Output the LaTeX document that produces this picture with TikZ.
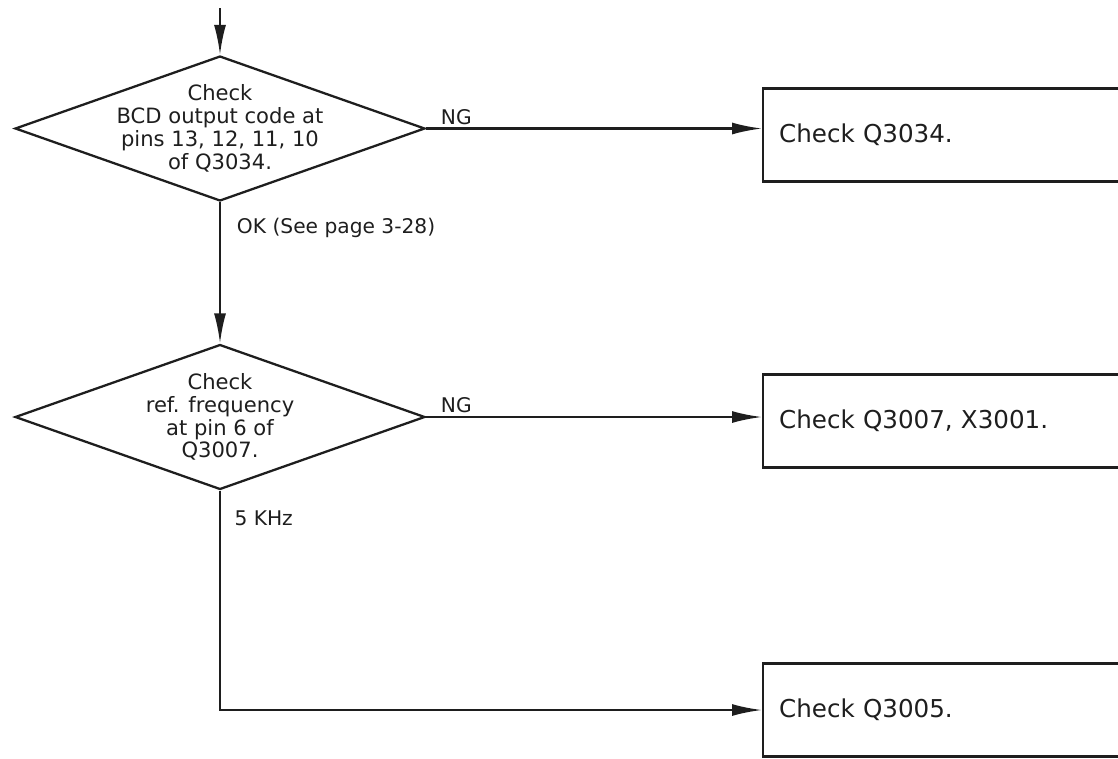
\documentclass[tikz,border=0pt]{standalone}
\usepackage{fontspec}
\setmainfont{DejaVu Sans}
\usetikzlibrary{arrows.meta, positioning, shapes.geometric}
\definecolor{ink}{HTML}{1E1E1E}

\begin{document}
\begin{tikzpicture}[
  x=0.02cm, y=-0.02cm,
  >={Latex[length=6mm, width=2.4mm]},
  decision/.style={
    draw=ink, line width=1.3pt, diamond, inner sep=0pt,
    minimum width=8.2cm, minimum height=2.9cm
  },
  dtext/.style={
    font=\fontsize{12}{13}\selectfont, text=ink, align=center
  },
  actbox/.style={
    draw=ink, line width=1.3pt, anchor=west, minimum height=1.86cm,
    text width=7.4cm, inner xsep=0.32cm, align=left,
    font=\fontsize{14}{16}\selectfont, text=ink
  },
  arr/.style={->, line width=1.3pt, ink},
  lbl/.style={font=\fontsize{11.5}{13}\selectfont, text=ink},
]

% Frame
\useasboundingbox (0,0) rectangle (1118,758);
\clip (0,0) rectangle (1118,758);

% ---- Decisions ----
\node[decision, label={[dtext]center:{Check\\BCD output code at\\pins 13, 12, 11, 10\\of Q3034.}}]
  (dia1) at (220,128.5) {};
\node[decision, label={[dtext]center:{Check\\ref. frequency\\at pin 6 of\\Q3007.}}]
  (dia2) at (220,417) {};

% ---- Action boxes ----
\node[actbox] (box1) at (762,135) {Check Q3034.};
\node[actbox] (box2) at (762,421) {Check Q3007, X3001.};
\node[actbox] (box3) at (762,710) {Check Q3005.};

% Entry from above
\coordinate (entry) at (220,8);
\draw[arr] (entry) -- (dia1.north);

% NG branches
\draw[arr] (dia1.east) -- node[lbl, pos=0.09, above, inner sep=1.5pt] {NG}
  (dia1.east -| box1.west);
\draw[arr] (dia2.east) -- node[lbl, pos=0.09, above, inner sep=1.5pt] {NG}
  (dia2.east -| box2.west);

% OK branches
\draw[arr] (dia1.south) -- node[lbl, pos=0.18, right=2mm] {OK (See page 3-28)}
  (dia2.north);
\draw[arr] (dia2.south) |- node[lbl, pos=0.064, right=1.5mm] {5 KHz}
  (box3.west);

\end{tikzpicture}
\end{document}
